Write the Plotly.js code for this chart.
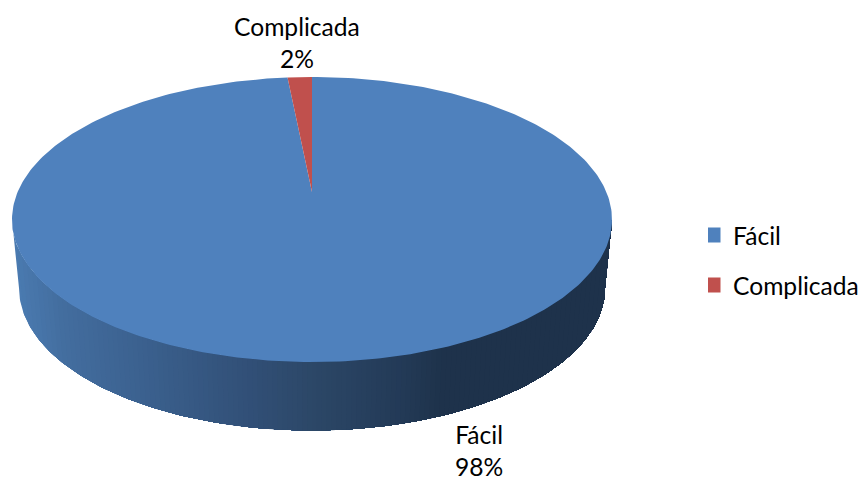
<!DOCTYPE html>
<html>
<head>
<meta charset="utf-8">
<script src="https://cdn.plot.ly/plotly-3.0.0.min.js"></script>
<style>html,body{margin:0;padding:0;background:#fff;overflow:hidden;width:861px;height:480px}</style>
</head>
<body>
<div id="chart" style="width:870px;height:490px"></div>
<script>
// Data
const categories = ["Fácil", "Complicada"];
const shares = [98.7, 1.3];                // slice sizes as drawn
const percentLabels = ["98%", "2%"];       // labels as printed on the chart
const sliceColors = ["#4f81bd", "#c0504d"];

// 3D pie projection
const cx = 312, cy = 219.5, rx = 300, ry = 142.5;
const apexY = 192, bottomCy = 288, bottomRx = 293;
const wallStops = [[12,[74,122,176]],[60,[67,109,158]],[150,[58,95,140]],[250,[49,79,118]],
                   [312,[44,71,103]],[400,[35,58,87]],[440,[30,50,75]],[612,[30,50,75]]];
const FONT = "Lato, Carlito, Calibri, sans-serif";

function wallColor(x){
  for(let i=1;i<wallStops.length;i++){
    if(x<=wallStops[i][0]){
      const a=wallStops[i-1], b=wallStops[i], f=(x-a[0])/(b[0]-a[0]);
      const c=a[1].map((v,k)=>Math.round(v+(b[1][k]-v)*f));
      return "rgb("+c.join(",")+")";
    }
  }
  return "rgb(30,50,75)";
}

const traces = [];
// side wall: painted left to right, each band running to the right end, so no seams
const N = 120, M = 200;
function arcU(j,n){return Math.cos(Math.PI*(1-j/n));}
function topPt(u){return [cx+rx*u, cy+ry*Math.sqrt(Math.max(0,1-u*u))];}
function botPt(u){return [cx+bottomRx*u, bottomCy+ry*Math.sqrt(Math.max(0,1-u*u))];}
for(let i=0;i<N;i++){
  const u0=-1+2*i/N;
  const us=[u0];
  for(let j=0;j<=M;j++){const u=arcU(j,M); if(u>u0) us.push(u);}
  const upper=us.map(topPt), lower=us.map(botPt).reverse();
  const p=upper.concat(lower,[upper[0]]);
  traces.push({type:"scatter",mode:"lines",x:p.map(q=>q[0]),y:p.map(q=>q[1]),
    fill:"toself",fillcolor:wallColor(cx+rx*u0),line:{width:0},showlegend:false,hoverinfo:"skip"});
}
// top face sectors, clockwise from 12 o'clock, last slice ending at 12 o'clock
function sector(startShare,endShare){
  const xs=[cx], ys=[apexY], total=shares.reduce((s,v)=>s+v,0), steps=360;
  for(let k=0;k<=steps;k++){
    const t=2*Math.PI*(startShare+(endShare-startShare)*k/steps)/total;
    xs.push(cx+rx*Math.sin(t)); ys.push(cy-ry*Math.cos(t));
  }
  xs.push(cx); ys.push(apexY);
  return {x:xs,y:ys};
}
let acc=0;
shares.forEach((v,i)=>{
  const s=sector(acc,acc+v); acc+=v;
  traces.push({type:"scatter",mode:"lines",x:s.x,y:s.y,fill:"toself",fillcolor:sliceColors[i],
    line:{width:0},showlegend:false,name:categories[i],hoverinfo:"name"});
});
// legend keys
categories.forEach((c,i)=>{
  traces.push({type:"scatter",mode:"markers",x:[null],y:[null],name:c,legendgroup:c,
    marker:{symbol:"square",size:15,color:sliceColors[i]},showlegend:true});
});

const layout = {
  width:870,height:490,margin:{l:0,r:0,t:0,b:0},
  paper_bgcolor:"#fff",plot_bgcolor:"#fff",hovermode:"closest",
  font:{family:FONT,size:24.6,color:"#000"},
  xaxis:{range:[0,870],visible:false,fixedrange:true},
  yaxis:{range:[490,0],visible:false,fixedrange:true},
  showlegend:true,
  legend:{x:0.8138,y:0.4694,yanchor:"middle",xanchor:"left",tracegroupgap:15,indentation:-15,
    bgcolor:"rgba(0,0,0,0)",font:{family:FONT,size:24.6,color:"#000"}},
  annotations:[
    {x:296.5,y:42,xref:"x",yref:"y",text:categories[1]+"<br>"+percentLabels[1],showarrow:false,font:{family:FONT,size:24.6,color:"#000"}},
    {x:479,y:450,xref:"x",yref:"y",text:categories[0]+"<br>"+percentLabels[0],showarrow:false,font:{family:FONT,size:24.6,color:"#000"}}
  ]
};
Plotly.newPlot("chart",traces,layout,{displayModeBar:false,responsive:false});
</script>
</body>
</html>
